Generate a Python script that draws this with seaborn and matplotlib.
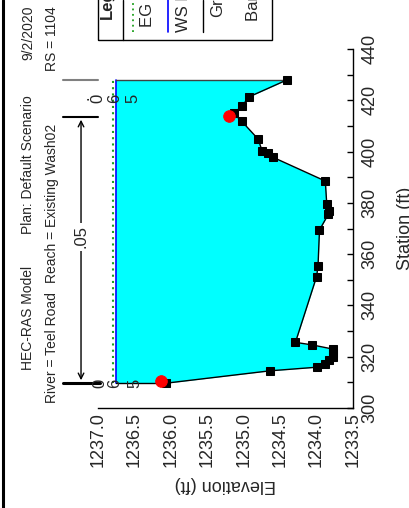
# HEC-RAS cross section plot (rotated view)

import numpy as np
import matplotlib
matplotlib.use("Agg")
import matplotlib.pyplot as plt
from matplotlib.lines import Line2D
from matplotlib.patches import Rectangle
from matplotlib.ticker import MultipleLocator
import seaborn as sns

# Ground points (station ft, elevation ft)
ground_sta = [309.7, 314.5, 315.9, 317.0, 318.7, 319.8, 321.3, 323.0, 324.6, 325.6,
              351.2, 355.4, 369.4, 375.5, 376.8, 379.4, 388.5, 397.8, 399.3, 400.4,
              404.8, 411.9, 414.9, 417.8, 421.3, 427.9]
ground_elev = [1236.06, 1234.64, 1234.00, 1233.88, 1233.83, 1233.78, 1233.77, 1233.78, 1234.06, 1234.29,
               1234.00, 1233.98, 1233.96, 1233.84, 1233.83, 1233.86, 1233.88, 1234.60, 1234.67, 1234.75,
               1234.80, 1235.03, 1235.14, 1235.02, 1234.93, 1234.41]

# Bank stations
bank_sta = [310.5, 413.9]
bank_elev = [1236.13, 1235.20]

# Water surface / energy grade
ws_elev = 1236.757
eg_elev = 1236.80

# Manning n value between banks
n_value = ".05"

header_1 = ["HEC-RAS Model", "Plan: Default Scenario", "9/2/2020"]
header_2 = ["River = Teel Road", "Reach = Existing Wash02", "RS = 1104"]
legend_items = ["EG PF 1", "WS PF 1", "Ground", "Bank Sta"]

sns.set_style("white")
plt.rcParams['font.family'] = ['Liberation Sans', 'DejaVu Sans']

W, H = 409, 508
fig = plt.figure(figsize=(W / 100, H / 100), dpi=100)


def fx(px):
    return px / W


def fy(py):
    return 1 - py / H


# axes: x = elevation (reversed), y = station
ax = fig.add_axes([fx(98), fy(408), fx(353) - fx(98), fy(49) - fy(408)])
ax.set_xlim(1237.0, 1233.5)
ax.set_ylim(300, 440)

# water fill
sta = np.array(ground_sta)
ax.fill_betweenx(sta, ground_elev, ws_elev, color="#00FFFF", lw=0, zorder=1)

# EG and WS lines
ax.plot([eg_elev, eg_elev], [ground_sta[0], ground_sta[-1]], color="#1EA01E", lw=1.5,
        ls=(0, (1, 2)), zorder=2)
ax.plot([ws_elev, ws_elev], [ground_sta[0], ground_sta[-1]], color="#0000FF", lw=1.2, zorder=3)

# end walls of the ground up to the water surface
ax.plot([ws_elev, ground_elev[0]], [ground_sta[0], ground_sta[0]], color="black", lw=1, zorder=4)
ax.plot([ws_elev, ground_elev[-1]], [ground_sta[-1], ground_sta[-1]], color="#404040", lw=1, zorder=4)

# ground line
sns.lineplot(x=ground_elev, y=ground_sta, sort=False, estimator=None, color="black", lw=1,
             marker="s", markersize=5.5, markeredgecolor="black", ax=ax, zorder=5)

# bank stations
sns.scatterplot(x=bank_elev, y=bank_sta, color="#FF0000", s=70, edgecolor="#FF0000", ax=ax, zorder=6)

# n-value markers outside the plot
ax.plot([1237.48, 1237.0], [427.9, 427.9], color="#808080", lw=1.5, clip_on=False)
ax.plot([1237.48, 1237.0], [413.5, 413.5], color="black", lw=1.5, clip_on=False)
ax.plot([1237.48, 1236.97], [309.75, 309.75], color="black", lw=2.2, clip_on=False)
ax.annotate("", xy=(1237.233, 413.5), xytext=(1237.233, 309.75),
            arrowprops=dict(arrowstyle="<->", color="black", lw=1), annotation_clip=False)
ax.text(1237.233, 366.7, n_value, rotation=90, ha="center", va="center", fontsize=12,
        bbox=dict(facecolor="white", edgecolor="none", pad=2), clip_on=False)

# small labels at the section ends
for e, s, t in [(1237.19, 420.9, "."), (1237.0, 420.9, "0"), (1236.767, 420.9, "6"), (1236.52, 420.9, "5"),
                (1236.973, 309.75, "0"), (1236.767, 309.75, "6"), (1236.49, 309.75, "5")]:
    ax.text(e, s, t, rotation=90, ha="center", va="center", fontsize=12, clip_on=False, zorder=7)

# axes styling
for side in ["top", "left"]:
    ax.spines[side].set_visible(False)
for side in ["right", "bottom"]:
    ax.spines[side].set_color("black")
    ax.spines[side].set_linewidth(1)
ax.yaxis.tick_right()
ax.set_xticks(np.arange(1233.5, 1237.01, 0.5))
ax.set_xticklabels([f"{v:.1f}" for v in np.arange(1233.5, 1237.01, 0.5)])
ax.xaxis.set_minor_locator(MultipleLocator(0.1))
ax.set_yticks(np.arange(300, 441, 20))
ax.yaxis.set_minor_locator(MultipleLocator(10))
ax.tick_params(axis="both", which="both", direction="in", length=4, color="black", width=1)
ax.tick_params(axis="x", labelrotation=90, pad=3, labelsize=13)
ax.tick_params(axis="y", labelrotation=90, pad=6, labelsize=13, left=False, right=True)
for lab in ax.get_yticklabels():
    lab.set_va("center")
ax.set_xlabel("")
ax.set_ylabel("")

fig.text(fx(225), fy(484), "Elevation (ft)", rotation=180, ha="center", va="center", fontsize=13)
fig.text(fx(405), fy(228), "Station (ft)", rotation=90, ha="center", va="center", fontsize=13)

# header, anchored at the upper end of each rotated text
for x, y, t in [(28, 266, header_1[0]), (28, 95, header_1[1]), (28, 6, header_1[2])]:
    fig.text(fx(x), fy(y), t, rotation=90, ha="center", va="top", fontsize=10)
for x, y, t in [(52, 292, header_2[0]), (52, 124, header_2[1]), (52, 6, header_2[2])]:
    fig.text(fx(x), fy(y), t, rotation=90, ha="center", va="top", fontsize=10)

# frame line on the left
fig.add_artist(Line2D([fx(3), fx(3)], [0, 1], color="black", lw=2.2))

# legend box (cut by the top of the picture)
fig.add_artist(Rectangle((fx(98), fy(40)), fx(272) - fx(98), 0.2, fill=False, lw=1,
                         edgecolor="black", transform=fig.transFigure))
fig.add_artist(Line2D([fx(123), fx(123)], [fy(40), 1.0], color="black", lw=1))
fig.text(fx(107), fy(19), "Legend", rotation=90, ha="center", va="bottom", fontsize=12, weight="bold")
fig.add_artist(Line2D([fx(133), fx(133)], [fy(32), 1.0], color="#1EA01E", lw=1.3, ls=(0, (1, 2))))
fig.add_artist(Line2D([fx(168), fx(168)], [fy(32), 1.0], color="#0000FF", lw=1.2))
fig.add_artist(Line2D([fx(203), fx(203)], [fy(32), 1.0], color="black", lw=1))
for x, y, t in [(148, 27, legend_items[0]), (183, 32, legend_items[1]),
                (218, 17, legend_items[2]), (253, 21, legend_items[3])]:
    fig.text(fx(x), fy(y), t, rotation=90, ha="center", va="bottom", fontsize=12)

fig.savefig("out.png", dpi=100)
